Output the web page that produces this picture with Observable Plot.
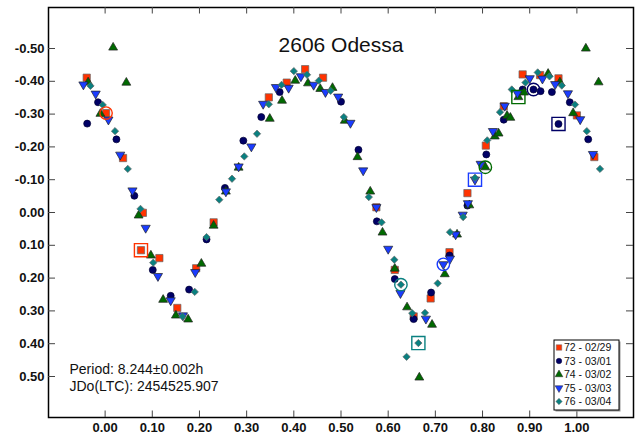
<!DOCTYPE html>
<html><head><meta charset="utf-8">
<script src="https://cdn.jsdelivr.net/npm/d3@7"></script>
<script src="https://cdn.jsdelivr.net/npm/@observablehq/plot@0.6"></script>
<style>
body{margin:0;background:#fff;}
#chart{position:relative;width:637px;height:439px;}
svg{font-family:"Liberation Sans",Arial,sans-serif;}
</style></head><body><div id="chart"></div>
<script>
const title = "2606 Odessa";
const infoLines = ["Period: 8.244\u00b10.002h", "JDo(LTC): 2454525.907"];
const seriesNames = ["72 - 02/29","73 - 03/01","74 - 03/02","75 - 03/03","76 - 03/04"];
const xTicks = [0,0.1,0.2,0.3,0.4,0.5,0.6,0.7,0.8,0.9,1.0];
const yTicks = [-0.5,-0.4,-0.3,-0.2,-0.1,0,0.1,0.2,0.3,0.4,0.5];

const phase72 = [-0.039,0.002,0.038,0.080,0.076,0.115,0.153,0.193,0.230,0.347,0.385,0.424,0.462,0.575,0.614,0.654,0.690,0.730,0.768,0.807,0.845,0.885,0.922,0.961,1.000,1.037];
const mag72 = [-0.411,-0.303,-0.166,0.001,0.115,0.139,0.291,0.170,0.030,-0.351,-0.396,-0.437,-0.411,-0.016,0.175,0.317,0.262,0.121,-0.059,-0.204,-0.324,-0.421,-0.419,-0.409,-0.296,-0.169];

const phase73 = [-0.038,-0.015,0.024,0.062,0.101,0.139,0.178,0.215,0.254,0.293,0.331,0.370,0.500,0.537,0.576,0.614,0.654,0.691,0.730,0.768,0.808,0.845,0.885,0.908,0.923,0.947,0.961,0.985,1.024];
const mag73 = [-0.271,-0.336,-0.223,-0.051,0.175,0.254,0.235,0.082,-0.075,-0.219,-0.291,-0.367,-0.338,-0.191,0.027,0.203,0.325,0.244,0.131,-0.021,-0.177,-0.283,-0.375,-0.375,-0.370,-0.367,-0.270,-0.336,-0.223];

const phase74 = [0.017,-0.036,0.045,-0.010,0.071,0.097,0.123,0.150,0.176,0.204,0.230,0.256,0.283,0.349,0.375,0.403,0.430,0.456,0.482,0.508,0.535,0.562,0.588,0.614,0.640,0.666,0.693,0.720,0.746,0.772,0.806,0.826,0.834,0.852,0.859,0.876,0.888,0.939,0.964,0.992,1.019,1.046];
const mag74 = [-0.503,-0.397,-0.396,-0.301,0.009,0.131,0.266,0.314,0.326,0.156,0.040,-0.064,-0.137,-0.286,-0.341,-0.402,-0.394,-0.377,-0.380,-0.280,-0.169,-0.064,0.061,0.171,0.289,0.503,0.342,0.188,0.067,-0.022,-0.138,-0.232,-0.241,-0.295,-0.289,-0.352,-0.366,-0.423,-0.397,-0.303,-0.500,-0.397];

const phase75 = [-0.046,-0.020,0.007,0.032,0.058,0.086,0.112,0.139,0.165,0.191,0.256,0.283,0.310,0.335,0.362,0.389,0.415,0.442,0.467,0.494,0.520,0.547,0.575,0.600,0.626,0.680,0.717,0.731,0.743,0.758,0.769,0.784,0.796,0.822,0.847,0.874,0.900,0.927,0.954,0.981,1.007,1.034];
const mag75 = [-0.390,-0.362,-0.283,-0.176,-0.067,0.047,0.194,0.268,0.314,0.182,-0.064,-0.140,-0.201,-0.331,-0.382,-0.380,-0.415,-0.389,-0.367,-0.353,-0.273,-0.128,-0.016,0.111,0.246,0.324,0.158,0.141,0.067,0.007,-0.028,-0.100,-0.148,-0.248,-0.325,-0.364,-0.409,-0.408,-0.391,-0.363,-0.284,-0.178];

const phase76 = [-0.031,-0.005,0.021,0.048,0.075,0.102,0.164,0.190,0.215,0.242,0.269,0.295,0.322,0.347,0.374,0.400,0.428,0.453,0.478,0.506,0.559,0.586,0.613,0.627,0.639,0.651,0.664,0.678,0.705,0.731,0.759,0.784,0.810,0.837,0.862,0.891,0.917,0.942,0.968,0.996,1.021,1.049];
const mag76 = [-0.386,-0.328,-0.248,-0.133,-0.011,0.153,0.317,0.242,0.075,-0.039,-0.103,-0.171,-0.240,-0.330,-0.389,-0.431,-0.420,-0.402,-0.371,-0.291,-0.047,0.030,0.144,0.220,0.440,0.307,0.398,0.306,0.216,0.060,0.014,-0.106,-0.220,-0.306,-0.375,-0.396,-0.427,-0.415,-0.387,-0.329,-0.248,-0.133];

// highlighted observations (index within each series): ringed and boxed
const ringIndex = [1, 23, 30, 26, 23];
const boxIndex = [4, 26, 35, 31, 26];

// ---- styling ----
const W = 637, H = 439;
const M = {top: 7, right: 4, bottom: 22, left: 48};
const fw = W - M.left - M.right, fh = H - M.top - M.bottom;
const colors = ["#ff3300", "#000066", "#006a00", "#1a3cff", "#0a8080"];
const symbols = ["square", "circle", "triangle", "triangle", "diamond2"];
const rotations = [0, 0, 0, 180, 0];
const radii = [4.1, 3.5, 3.3, 3.4, 3.3];
const strokes = ["#666", "#000033", "#222", "#222", "#666"];

const phases = [phase72, phase73, phase74, phase75, phase76];
const mags = [mag72, mag73, mag74, mag75, mag76];
const series = phases.map((ph, k) => ph.map((p, i) => ({k, i, p, v: mags[k][i]})));

const font = "Liberation Sans, Arial, sans-serif";
const fmt = d => (Math.abs(d) < 1e-9 ? 0 : d).toFixed(2);

const marks = [
  Plot.frame({stroke: "black", strokeWidth: 1.5}),
  Plot.tickX(xTicks, {x: d => d, insetTop: fh - 6.5, stroke: "#444"}),
  Plot.tickX(xTicks, {x: d => d, insetBottom: fh - 6.5, stroke: "#444"}),
  Plot.tickY(yTicks, {y: d => d, insetRight: fw - 7, stroke: "#444"}),
  Plot.tickY(yTicks, {y: d => d, insetLeft: fw - 7, stroke: "#444"}),
  Plot.axisX(xTicks, {anchor: "bottom", tickSize: 0, tickPadding: 5, tickFormat: fmt, fontWeight: "bold", fontSize: 13, fill: "#111"}),
  Plot.axisY(yTicks, {anchor: "left", tickSize: 0, tickPadding: 4, tickFormat: fmt, fontWeight: "bold", fontSize: 13, fill: "#111"}),
  Plot.text([title], {frameAnchor: "top", dy: 30, text: d => d, fontSize: 21, fill: "#111"}),
  Plot.text([infoLines[0]], {frameAnchor: "bottom-left", dx: 21, dy: -44, textAnchor: "start", text: d => d, fontSize: 14, fill: "#111"}),
  Plot.text([infoLines[1]], {frameAnchor: "bottom-left", dx: 21, dy: -27, textAnchor: "start", text: d => d, fontSize: 14, fill: "#111"})
];

series.forEach((rows, k) => {
  marks.push(Plot.dot(rows, {x: "p", y: "v", symbol: symbols[k], r: radii[k], fill: colors[k],
    stroke: strokes[k], strokeWidth: 0.7, rotate: rotations[k]}));
});
series.forEach((rows, k) => {
  marks.push(Plot.dot([rows[ringIndex[k]]], {x: "p", y: "v", symbol: "circle", r: 6.2, fill: "none", stroke: colors[k], strokeWidth: 1.4}));
  marks.push(Plot.dot([rows[boxIndex[k]]], {x: "p", y: "v", symbol: "square", r: 7.4, fill: "none", stroke: colors[k], strokeWidth: 1.4}));
});

const chart = Plot.plot({
  width: W, height: H,
  marginTop: M.top, marginRight: M.right, marginBottom: M.bottom, marginLeft: M.left,
  style: {fontFamily: font, background: "#fff"},
  x: {domain: [-0.12, 1.12], label: null},
  y: {domain: [-0.625, 0.625], reverse: true, label: null},
  marks
});
document.getElementById("chart").appendChild(chart);

// legend box inside the frame (bottom-right)
const svg = d3.select(chart);
const bw = 65, bh = 70;
const bx = W - M.right - 14 - bw, by = H - M.bottom - 7 - bh;
const lg = svg.append("g").attr("transform", `translate(${bx},${by})`);
lg.append("rect").attr("x", 1.5).attr("y", 1.5).attr("width", bw).attr("height", bh).attr("fill", "#999");
lg.append("rect").attr("width", bw).attr("height", bh).attr("fill", "#fff").attr("stroke", "#000").attr("stroke-width", 1);
const d3sym = [d3.symbolSquare, d3.symbolCircle, d3.symbolTriangle, d3.symbolTriangle, d3.symbolSquare];
const symRot = [0, 0, 0, 180, 45];
const symSize = [30, 24, 26, 26, 20];
seriesNames.forEach((name, k) => {
  const cy = 7.5 + k * 13.5;
  lg.append("path").attr("d", d3.symbol(d3sym[k], symSize[k])())
    .attr("transform", `translate(5,${cy}) rotate(${symRot[k]})`)
    .attr("fill", colors[k]).attr("stroke", strokes[k]).attr("stroke-width", 0.5);
  lg.append("text").attr("x", 10).attr("y", cy).attr("dy", "0.35em")
    .attr("text-anchor", "start")
    .attr("font-size", 10.5).attr("fill", "#111").text(name);
});
</script></body></html>
